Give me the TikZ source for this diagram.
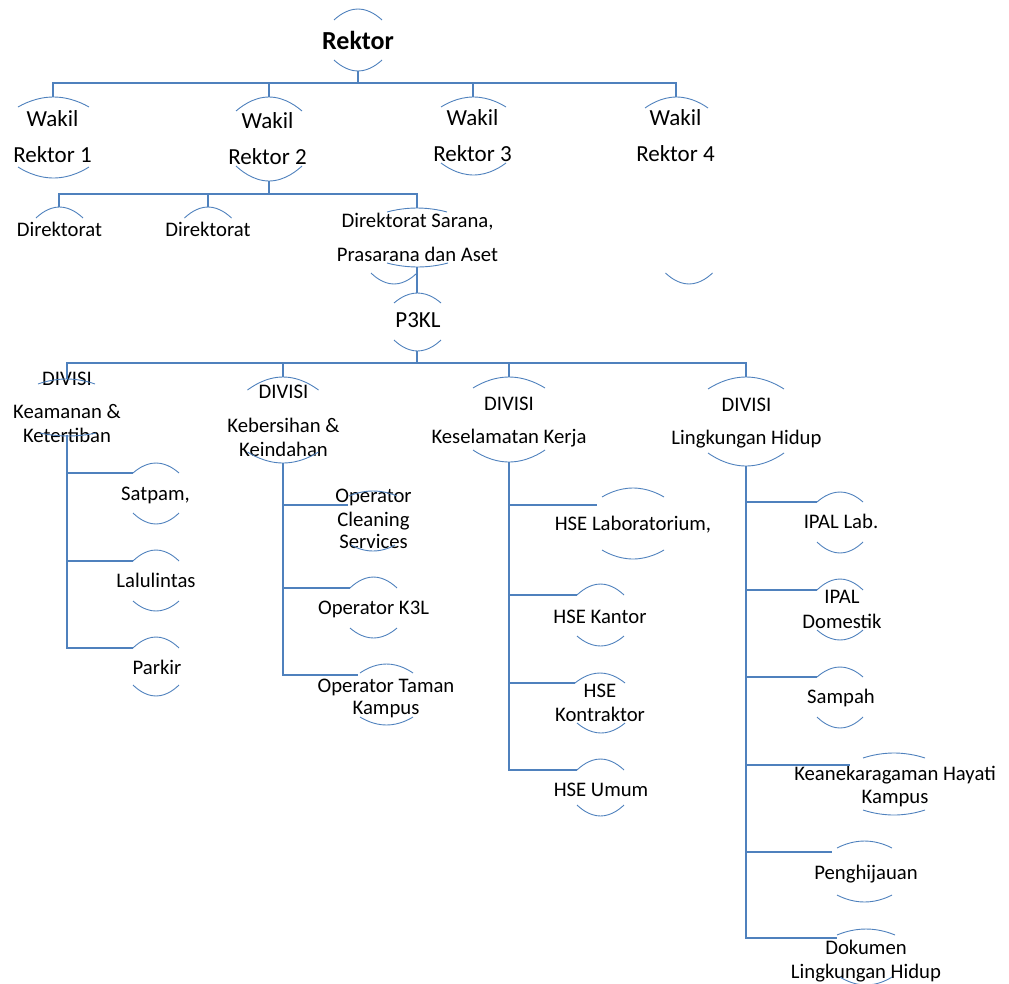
\documentclass[tikz,border=0pt]{standalone}
\usepackage{fontspec}
\setmainfont{Carlito}
\definecolor{smartblue}{HTML}{4F81BD}
\tikzset{
  conn/.style={draw=smartblue, line width=1.1pt},
  arcline/.style={draw=smartblue, line width=0.9pt},
  big/.style={font=\fontsize{23}{36}\selectfont, align=center, inner sep=0pt},
  small/.style={font=\fontsize{20.7}{24}\selectfont, align=center, inner sep=0pt},
}

\begin{document}
\begin{tikzpicture}[x=1pt,y=-1pt]
\useasboundingbox (0,0) rectangle (1009,983);

% pimpinan
\node[font=\fontsize{26}{30}\selectfont\bfseries, inner sep=0pt] at (358,40) (rektor) {Rektor};
\node[big] at (52.5,137) (wr1) {Wakil\\Rektor 1};
\node[big] at (267.5,139) (wr2) {Wakil\\Rektor 2};
\node[big] at (472.5,136) (wr3) {Wakil\\Rektor 3};
\node[big] at (675.5,135.5) (wr4) {Wakil\\Rektor 4};
\node[small] at (59.5,229.5) (dir1) {Direktorat};
\node[small] at (208,229.5) (dir2) {Direktorat};
\node[small] at (417.5,237) (dirspa) {Direktorat Sarana,\\[10pt]Prasarana dan Aset};
\node[big] at (418,320) (p3kl) {P3KL};

% divisi
\node[small] at (67,407) (div1) {DIVISI\\[9pt]Keamanan \&\\Ketertiban};
\node[small] at (283.5,420.5) (div2) {DIVISI\\[10pt]Kebersihan \&\\Keindahan};
\node[small] at (509,422) (div3) {DIVISI\\[9pt]Keselamatan Kerja};
\node[small] at (746.5,423.5) (div4) {DIVISI\\[9pt]Lingkungan Hidup};

% unit
\node[small] at (155.5,495) (satpam) {Satpam,};
\node[small] at (156,580) (lalin) {Lalulintas};
\node[small] at (157,667) (parkir) {Parkir};
\node[small] at (373.5,519) (ocs) {Operator\\Cleaning\\[-2pt]Services};
\node[small] at (373.5,609) (ok3l) {Operator K3L};
\node[small] at (386,698) (otk) {Operator Taman\\[-2pt]Kampus};
\node[small] at (633,525) (hselab) {HSE Laboratorium,};
\node[small] at (600,617) (hsekan) {HSE Kantor};
\node[small] at (600,703) (hsekon) {HSE\\Kontraktor};
\node[small] at (601,790) (hseum) {HSE Umum};
\node[small] at (841,521.5) (ipallab) {IPAL Lab.};
\node[small] at (842,609.5) (ipaldom) {IPAL\\[1pt]Domestik};
\node[small] at (841,698) (sampah) {Sampah};
\node[small] at (895,786.5) (hayati) {Keanekaragaman Hayati\\[-1pt]Kampus};
\node[small] at (866,874) (hijau) {Penghijauan};
\node[small] at (866,961.5) (dokumen) {Dokumen\\Lingkungan Hidup};

% busur atas dan bawah
\foreach \x/\y/\w/\h in {358/20/24/11, 53.5/107/35.5/10, 269/111/33/14, 473.5/107/32.5/10,
    676.5/108/31.5/11, 59.5/218/23.5/11, 208/218/23.5/11, 417/212/30/4, 417.5/303/23.5/10,
    66.5/384/28.5/5, 283/390/35.5/13, 509/388/36/11, 746/389/38/12,
    156/473/23/10, 156/561/23/11, 156/648/23/11,
    373/496/24/5, 373.5/588/23.5/11, 386.5/673/26.5/9,
    633/497/31/9, 600.5/595/23.5/11, 600/683/25/10, 600.5/770/23.5/11,
    840/502/23/10, 840/590/23/11, 840/677/23/10, 894/758/31/5, 864.5/848/27.5/7, 866/935/29/6}
  \draw[arcline] (\x-\w,\y) parabola bend (\x,\y-\h) (\x+\w,\y);
\foreach \x/\y/\w/\h in {358/60/24/11, 53.5/167/35.5/11, 269/166/33/15, 473.5/163/32.5/12,
    689/273/23.5/11, 417.5/263/30.5/4, 394/273/23/11, 417.5/340/23.5/11,
    68/433/28/3, 283/452/35.5/11, 509/450/36/12, 746/453/38/13,
    156/513/23/11, 156/601/23/10, 156/685/23/11,
    373/545/22/6, 373.5/628/23.5/10, 386.5/717/26.5/8,
    633/550/31/9, 600.5/636/23.5/10, 601/723/24/10, 600.5/805/23.5/11,
    840/542/23/11, 840/630/23/10, 840/717/23/11, 894/810/31/5, 864.5/895/27.5/7, 866/977/26/8}
  \draw[arcline] (\x-\w,\y) parabola bend (\x,\y+\h) (\x+\w,\y);

% titik sambung
\coordinate (rek-b) at (358,71);
\coordinate (wr1-t) at (53,97); \coordinate (wr2-t) at (269,97);
\coordinate (wr3-t) at (473,97); \coordinate (wr4-t) at (676,97);
\coordinate (wr2-b) at (269,181);
\coordinate (dir1-t) at (59,207); \coordinate (dir2-t) at (208,207);
\coordinate (dirspa-t) at (417,208); \coordinate (dirspa-b) at (417,267);
\coordinate (p3kl-t) at (417,293); \coordinate (p3kl-b) at (417,351);
\coordinate (div1-t) at (67,379); \coordinate (div2-t) at (283,377);
\coordinate (div3-t) at (509,377); \coordinate (div4-t) at (746,377);
\coordinate (div1-b) at (67,435); \coordinate (div2-b) at (283,463);
\coordinate (div3-b) at (509,462); \coordinate (div4-b) at (746,466);
\coordinate (satpam-w) at (133,473); \coordinate (lalin-w) at (133,561);
\coordinate (parkir-w) at (133,648);
\coordinate (ocs-w) at (348,505); \coordinate (ok3l-w) at (350,588);
\coordinate (otk-w) at (358,675);
\coordinate (hselab-w) at (597,505); \coordinate (hsekan-w) at (577,595);
\coordinate (hsekon-w) at (575,683); \coordinate (hseum-w) at (577,770);
\coordinate (ipallab-w) at (817,502); \coordinate (ipaldom-w) at (817,590);
\coordinate (sampah-w) at (817,677); \coordinate (hayati-w) at (850,765);
\coordinate (hijau-w) at (832,852); \coordinate (dokumen-w) at (837,938);

% garis
\foreach \c in {wr1,wr2,wr3,wr4}
  \draw[conn] (rek-b) -- ++(0,12) -| (\c-t);
\foreach \c in {dir1,dir2,dirspa}
  \draw[conn] (wr2-b) -- ++(0,13) -| (\c-t);
\draw[conn] (dirspa-b) -- (p3kl-t);
\foreach \c in {div1,div2,div3,div4}
  \draw[conn] (p3kl-b) -- ++(0,12) -| (\c-t);
\foreach \c in {satpam,lalin,parkir}
  \draw[conn] (div1-b) |- (\c-w);
\foreach \c in {ocs,ok3l,otk}
  \draw[conn] (div2-b) |- (\c-w);
\foreach \c in {hselab,hsekan,hsekon,hseum}
  \draw[conn] (div3-b) |- (\c-w);
\foreach \c in {ipallab,ipaldom,sampah,hayati,hijau,dokumen}
  \draw[conn] (div4-b) |- (\c-w);
\end{tikzpicture}
\end{document}
